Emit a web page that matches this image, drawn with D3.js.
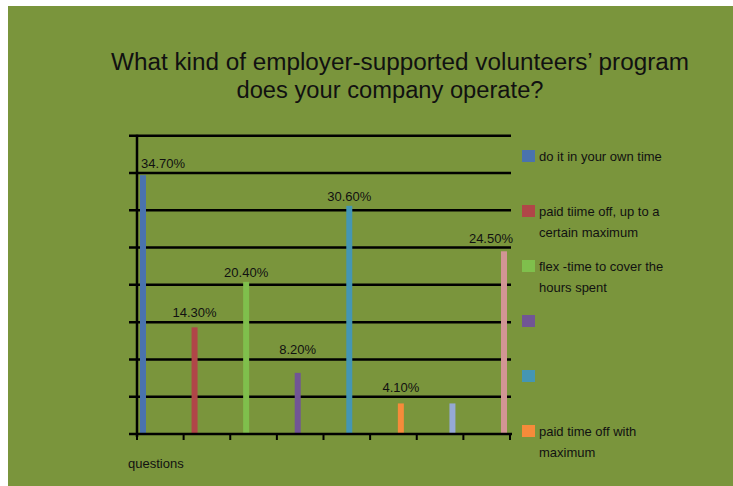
<!DOCTYPE html>
<html lang="en">
<head>
<meta charset="UTF-8">
<title>employer-supported volunteers' program</title>
<style>
    body { margin: 0; background: #fff; }
    text { font-family: "Liberation Sans", Arial, sans-serif; fill: #111; }
</style>
</head>
<body>
<script src="https://cdn.jsdelivr.net/npm/d3@7"></script>
<script>
    // data
    var category = "questions";
    var seriesNames = ["do it in your own time", "paid tiime off, up to a certain maximum",
        "flex -time to cover the hours spent", "", "", "paid time off with maximum", "", ""];
    var values = [34.7, 14.3, 20.4, 8.2, 30.6, 4.1, 4.1, 24.5];
    var valueLabels = ["34.70%", "14.30%", "20.40%", "8.20%", "30.60%", "4.10%", "", "24.50%"];
    var colors = ["#4a73ad", "#b04648", "#7fbf4c", "#715595", "#4496b3", "#f68b3a", "#95a9d4", "#d29594"];
    var yTicks = [0, 5, 10, 15, 20, 25, 30, 35, 40];
    var legendShown = 6; // the rest is cut off by the frame

    var w = 733, h = 486;
    var plotL = 137, plotR = 510, plotB = 434, plotT = 135.7;

    var svg = d3.select("body").append("svg").attr("width", w).attr("height", h);

    svg.append("rect").attr("x", 8).attr("y", 6).attr("width", w - 8).attr("height", h - 6)
        .attr("fill", "#7a953c");

    // title
    var title = svg.append("g");
    title.append("text").attr("x", 400).attr("y", 70).attr("text-anchor", "middle")
        .attr("font-size", 23).attr("textLength", 578).attr("lengthAdjust", "spacingAndGlyphs")
        .text("What kind of employer-supported volunteers\u2019 program");
    title.append("text").attr("x", 390).attr("y", 98).attr("text-anchor", "middle")
        .attr("font-size", 23).attr("textLength", 307).attr("lengthAdjust", "spacingAndGlyphs")
        .text("does your company operate?");

    var y = d3.scaleLinear().domain([0, 40]).range([plotB, plotT]);
    var x = d3.scalePoint().domain(d3.range(values.length)).range([plotL + 6, plotR - 6]);
    var xTick = d3.scaleLinear().domain([0, values.length]).range([plotL, plotR]);

    // gridlines + left ticks
    svg.selectAll("line.grid").data(yTicks.slice(1)).enter().append("line")
        .attr("class", "grid")
        .attr("x1", plotL - 8).attr("x2", plotR + 1)
        .attr("y1", function (d) { return y(d); }).attr("y2", function (d) { return y(d); })
        .attr("stroke", "#000").attr("stroke-width", 2.5);

    // bars
    svg.selectAll("rect.bar").data(values).enter().append("rect")
        .attr("class", "bar")
        .attr("x", function (d, i) { return x(i) - 3; })
        .attr("y", function (d) { return y(d); })
        .attr("width", 6)
        .attr("height", function (d) { return plotB - y(d); })
        .attr("fill", function (d, i) { return colors[i]; });

    // axes
    svg.append("line").attr("x1", plotL).attr("x2", plotL).attr("y1", plotT - 1).attr("y2", plotB + 3)
        .attr("stroke", "#000").attr("stroke-width", 2.5);
    svg.append("line").attr("x1", plotL - 8).attr("x2", plotR + 2).attr("y1", plotB).attr("y2", plotB)
        .attr("stroke", "#000").attr("stroke-width", 2.5);
    svg.selectAll("line.xtick").data(d3.range(values.length + 1)).enter().append("line")
        .attr("class", "xtick")
        .attr("x1", function (d) { return xTick(d); }).attr("x2", function (d) { return xTick(d); })
        .attr("y1", plotB).attr("y2", plotB + 6)
        .attr("stroke", "#000").attr("stroke-width", 2);

    // value labels: sit just above the bar, hop above a gridline if they would touch it
    function labelY(d) {
        var by = y(d) - 5;
        yTicks.forEach(function (t) {
            var gy = y(t);
            if (by + 2 >= gy - 1.5 && by - 10 <= gy + 1.5) by = gy - 5;
        });
        return by;
    }
    svg.selectAll("text.val").data(values).enter().append("text")
        .attr("class", "val")
        .attr("font-size", 13)
        .attr("y", labelY)
        .text(function (d, i) { return valueLabels[i]; })
        .attr("x", function (d, i) {
            var tw = this.getComputedTextLength();
            var lx = x(i) - tw / 2;
            lx = Math.max(lx, plotL + 4);
            lx = Math.min(lx, plotR + 3 - tw);
            return lx;
        });

    svg.append("text").attr("x", 128).attr("y", 468).attr("font-size", 13).text(category);

    // legend
    var legend = svg.selectAll("g.legend").data(d3.range(legendShown)).enter().append("g")
        .attr("class", "legend")
        .attr("transform", function (d) { return "translate(522," + (150 + d * 55) + ")"; });
    legend.append("rect").attr("width", 13).attr("height", 12)
        .attr("fill", function (d) { return colors[d]; });
    legend.each(function (d) {
        var g = d3.select(this);
        var words = seriesNames[d].split(" ").filter(function (s) { return s.length; });
        var t = g.append("text").attr("x", 17).attr("y", 11).attr("font-size", 13);
        var line = [];
        var ts = t.append("tspan").attr("x", 17).attr("dy", 0);
        words.forEach(function (wd) {
            line.push(wd);
            ts.text(line.join(" "));
            if (ts.node().getComputedTextLength() > 132 && line.length > 1) {
                line.pop();
                ts.text(line.join(" "));
                line = [wd];
                ts = t.append("tspan").attr("x", 17).attr("dy", 21).text(wd);
            }
        });
    });
</script>
</body>
</html>
